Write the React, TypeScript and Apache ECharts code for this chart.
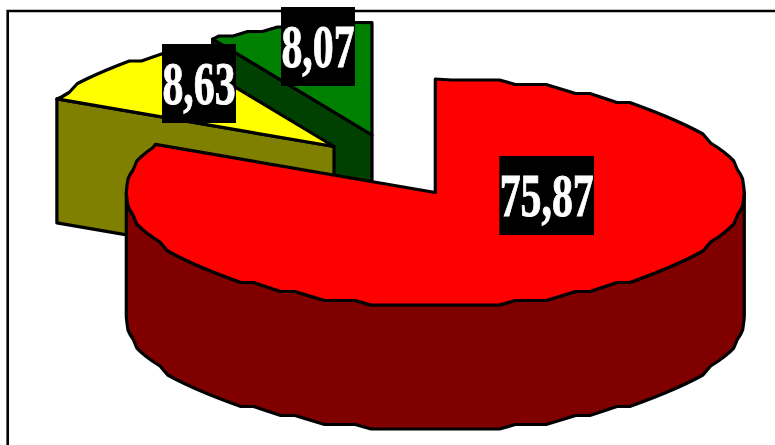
import React, { useEffect, useRef } from "react";
import * as echarts from "echarts";

const sliceLabels = ["75,87", "8,63", "8,07"];
const sliceValues = [75.87, 8.63, 8.07];
const topColors = ["#ff0000", "#ffff00", "#008000"];
const wallColors = ["#800000", "#808000", "#004000"];

const RX = 309;
const RY = 113.5;
const DEPTH = 124;
const SNAP = 4.5;
const STEP = 3;
const radiusScale = [1, 0.99, 0.99];
const tips: [number, number][] = [[435.3, 192.5], [334, 146.5], [372, 135]];
const labelCenters: [number, number][] = [[546.7, 195.5], [199, 83.5], [318, 46.5]];
const labelWidths = [94.7, 74, 74];
const LABEL_H = 79;

const total = sliceValues.reduce((a, b) => a + b, 0);
const starts: number[] = [];
sliceValues.reduce((acc, v, i) => {
  starts[i] = acc;
  return acc + (v / total) * 360;
}, 0);

function rimPoint(i: number, deg: number, snap = true): [number, number] {
  const tip = tips[i];
  const k = radiusScale[i];
  const r = (deg * Math.PI) / 180;
  const dy = -RY * k * Math.cos(r);
  return [tip[0] + RX * k * Math.sin(r), tip[1] + (snap ? Math.round(dy / SNAP) * SNAP : dy)];
}

function rim(i: number, a0: number, a1: number): [number, number][] {
  const pts: [number, number][] = [rimPoint(i, a0, false)];
  for (let a = Math.ceil(a0 / STEP) * STEP; a < a1; a += STEP) {
    if (a > a0) pts.push(rimPoint(i, a));
  }
  pts.push(rimPoint(i, a1, false));
  return pts;
}

function renderSlice(_p: any, api: any) {
  const i = api.value(0) as number;
  const value = api.value(1) as number;
  const a0 = starts[i];
  const a1 = a0 + (value / total) * 360;
  const tip = tips[i];
  const children: any[] = [];
  const line = { stroke: "#000", lineWidth: 3.2, lineJoin: "round" };
  // radial wall at the slice end, when it faces the viewer
  if (i > 0) {
    const p = rimPoint(i, a0, false);
    children.push({
      type: "polygon",
      shape: { points: [tip, p, [p[0], p[1] + DEPTH], [tip[0], tip[1] + DEPTH]] },
      style: { fill: wallColors[i], ...line },
    });
  }
  // outer wall of the front half of the rim
  const f0 = Math.max(a0, 90);
  const f1 = Math.min(a1, 270);
  if (f1 > f0) {
    const upper = rim(i, f0, f1);
    const lower = upper.map(([x, y]) => [x, y + DEPTH]).reverse();
    children.push({
      type: "polygon",
      shape: { points: [...upper, ...lower] },
      style: { fill: wallColors[i], ...line },
    });
  }
  children.push({
    type: "polygon",
    shape: { points: [tip, ...rim(i, a0, a1)] },
    style: { fill: topColors[i], ...line },
  });
  return { type: "group", children };
}

function renderLabel(_p: any, api: any) {
  const i = api.value(0) as number;
  const [cx, cy] = labelCenters[i];
  const w = labelWidths[i];
  return {
    type: "group",
    children: [
      {
        type: "rect",
        shape: { x: cx - w / 2, y: cy - LABEL_H / 2, width: w, height: LABEL_H },
        style: { fill: "#000" },
      },
      {
        type: "text",
        x: cx,
        y: cy - 1,
        scaleX: 0.675,
        style: {
          text: sliceLabels[i],
          fill: "#fff",
          stroke: "#fff",
          lineWidth: 1,
          font: "bold 62px 'Liberation Serif'",
          textAlign: "center",
          textVerticalAlign: "middle",
        },
      },
    ],
  };
}

export default function App() {
  const ref = useRef<HTMLDivElement>(null);
  useEffect(() => {
    const chart = echarts.init(ref.current!, undefined, { renderer: "svg" });
    const indexed = sliceValues.map((v, i) => [i, v]);
    chart.setOption({
      animation: false,
      backgroundColor: "#fff",
      graphic: [
        {
          type: "polyline",
          z: 0,
          shape: { points: [[7.7, 445], [7.7, 11], [775, 11]] },
          style: { stroke: "#000", lineWidth: 2.6, fill: "none" },
        },
      ],
      series: [
        {
          type: "custom",
          coordinateSystem: "none",
          z: 2,
          silent: true,
          renderItem: renderSlice,
          data: [...indexed].reverse(),
        },
        {
          type: "custom",
          coordinateSystem: "none",
          z: 3,
          silent: true,
          renderItem: renderLabel,
          data: indexed,
        },
      ],
    });
    return () => chart.dispose();
  }, []);
  return <div ref={ref} style={{ position: "fixed", left: 0, top: 0, width: 775, height: 445 }} />;
}
